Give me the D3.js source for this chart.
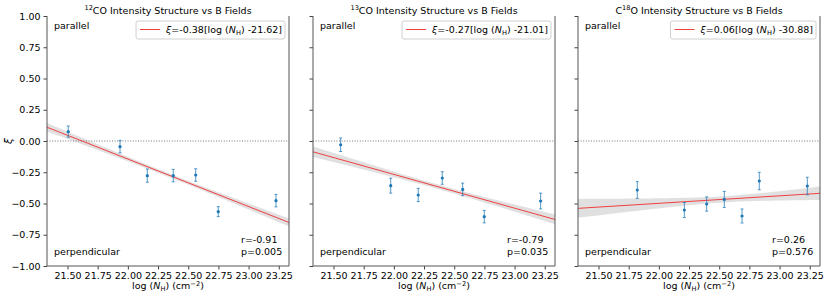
<!DOCTYPE html>
<html>
<head>
<meta charset="utf-8">
<script src="https://cdn.jsdelivr.net/npm/d3@7"></script>
<style>
  html, body { margin: 0; padding: 0; background: #fff; }
  svg text { font-family: "DejaVu Sans", sans-serif; }
</style>
</head>
<body>
<svg id="chart" width="830" height="293"></svg>
<script>
// ---------------- data ----------------
const titleSup   = ["12", "13", "18"];
const titlePre   = ["", "", "C"];
const titlePost  = ["CO Intensity Structure vs B Fields", "CO Intensity Structure vs B Fields", "O Intensity Structure vs B Fields"];

const xValues1 = [21.506, 21.935, 22.161, 22.376, 22.562, 22.749, 23.227];
const yValues1 = [0.075, -0.045, -0.277, -0.277, -0.272, -0.565, -0.477];
const yErr1    = [0.045, 0.050, 0.053, 0.050, 0.050, 0.040, 0.050];

const xValues2 = [21.559, 21.974, 22.202, 22.401, 22.570, 22.749, 23.216];
const yValues2 = [-0.030, -0.357, -0.432, -0.296, -0.387, -0.605, -0.480];
const yErr2    = [0.054, 0.060, 0.053, 0.050, 0.050, 0.050, 0.063];

const xValues3 = [21.821, 22.211, 22.396, 22.542, 22.689, 22.832, 23.230];
const yValues3 = [-0.392, -0.552, -0.504, -0.467, -0.600, -0.320, -0.360];
const yErr3    = [0.067, 0.060, 0.057, 0.064, 0.056, 0.070, 0.070];

const fitSlope = [-0.38, -0.27, 0.06];
const fitX0    = [21.62, 21.01, 30.31];
const ciScale  = [0.040, 0.048, 0.066];

const legendSlope     = ["-0.38", "-0.27", "0.06"];
const legendIntercept = ["-21.62", "-21.01", "-30.88"];
const rLabels = ["-0.91", "-0.79", "0.26"];
const pLabels = ["0.005", "0.035", "0.576"];

const xTicks = [21.50, 21.75, 22.00, 22.25, 22.50, 22.75, 23.00, 23.25];
const yTicks = [1.00, 0.75, 0.50, 0.25, 0.00, -0.25, -0.50, -0.75, -1.00];
const xDomain = [21.33, 23.335];
const yDomain = [-1, 1];

// ---------------- layout ----------------
const panelLeft = [47, 313, 578];
const panelW = 242;
const plotTop = 16, plotBottom = 266;
const FS = 9.5;
const blue = "#1f77b4";
const red = "#f04040";

const svg = d3.select("#chart");
const y = d3.scaleLinear().domain(yDomain).range([plotBottom, plotTop]);

const panels = [
  {x: xValues1, y: yValues1, e: yErr1},
  {x: xValues2, y: yValues2, e: yErr2},
  {x: xValues3, y: yValues3, e: yErr3}
];

panels.forEach((p, i) => {
  const L = panelLeft[i];
  const x = d3.scaleLinear().domain(xDomain).range([L, L + panelW]);
  const g = svg.append("g");

  // confidence band
  const n = p.x.length;
  const xm = d3.mean(p.x);
  const sxx = d3.sum(p.x, v => (v - xm) * (v - xm));
  const fit = v => fitSlope[i] * (v - fitX0[i]);
  const hw = v => ciScale[i] * Math.sqrt(1 / n + (v - xm) * (v - xm) / sxx);
  const xs = d3.range(0, 61).map(k => xDomain[0] + (xDomain[1] - xDomain[0]) * k / 60);
  g.append("path")
    .datum(xs)
    .attr("fill", "#000").attr("fill-opacity", 0.12)
    .attr("d", d3.area().x(v => x(v)).y0(v => y(fit(v) - hw(v))).y1(v => y(fit(v) + hw(v))));

  // zero dotted line
  g.append("line")
    .attr("x1", L).attr("x2", L + panelW)
    .attr("y1", y(0)).attr("y2", y(0))
    .attr("stroke", "#777").attr("stroke-width", 1)
    .attr("stroke-dasharray", "1,1.6");

  // regression line
  g.append("line")
    .attr("x1", x(xDomain[0])).attr("x2", x(xDomain[1]))
    .attr("y1", y(fit(xDomain[0]))).attr("y2", y(fit(xDomain[1])))
    .attr("stroke", red).attr("stroke-width", 1);

  // error bars
  const pts = p.x.map((v, k) => ({x: v, y: p.y[k], e: p.e[k]}));
  const eb = g.append("g").attr("stroke", blue).attr("stroke-opacity", 0.75).attr("stroke-width", 1);
  eb.selectAll("line.v").data(pts).join("line").attr("class", "v")
    .attr("x1", d => x(d.x)).attr("x2", d => x(d.x))
    .attr("y1", d => y(d.y - d.e)).attr("y2", d => y(d.y + d.e));
  eb.selectAll("line.t").data(pts).join("line").attr("class", "t")
    .attr("x1", d => x(d.x) - 1.5).attr("x2", d => x(d.x) + 1.5)
    .attr("y1", d => y(d.y + d.e)).attr("y2", d => y(d.y + d.e));
  eb.selectAll("line.b").data(pts).join("line").attr("class", "b")
    .attr("x1", d => x(d.x) - 1.5).attr("x2", d => x(d.x) + 1.5)
    .attr("y1", d => y(d.y - d.e)).attr("y2", d => y(d.y - d.e));
  g.append("g").selectAll("circle").data(pts).join("circle")
    .attr("cx", d => x(d.x)).attr("cy", d => y(d.y)).attr("r", 1.6)
    .attr("fill", blue);

  // axes
  const xa = g.append("g").attr("transform", `translate(0,${plotBottom})`)
    .call(d3.axisBottom(x).tickValues(xTicks).tickFormat(d3.format(".2f")).tickSize(3.5).tickPadding(2.5));
  xa.select(".domain").remove();
  xa.selectAll("text").attr("font-size", FS).attr("font-family", "DejaVu Sans").attr("fill", "#000");
  xa.selectAll("line").attr("stroke", "#444");

  const ya = g.append("g").attr("transform", `translate(${L},0)`)
    .call(d3.axisLeft(y).tickValues(yTicks).tickFormat(i === 0 ? d3.format(".2f") : () => "").tickSize(3.5).tickPadding(3));
  ya.select(".domain").remove();
  ya.selectAll("text").attr("font-size", FS).attr("font-family", "DejaVu Sans").attr("fill", "#000");
  ya.selectAll("line").attr("stroke", "#444");

  // spines (left, right, bottom)
  g.append("path").attr("d", `M${L},${plotTop}V${plotBottom}H${L + panelW}V${plotTop}`)
    .attr("stroke", "#555").attr("stroke-width", 1).attr("fill", "none");

  // title
  const t = g.append("text").attr("x", L + panelW / 2).attr("y", 13.5)
    .attr("text-anchor", "middle").attr("font-size", FS);
  if (titlePre[i]) t.append("tspan").text(titlePre[i]);
  t.append("tspan").text(titleSup[i]).attr("font-size", FS * 0.7).attr("dy", -3.5);
  t.append("tspan").text(titlePost[i]).attr("dy", 3.5);

  // x label
  const xl = g.append("text").attr("x", L + panelW / 2).attr("y", 289)
    .attr("text-anchor", "middle").attr("font-size", FS);
  xl.append("tspan").text("log (");
  xl.append("tspan").text("N").attr("font-style", "italic");
  xl.append("tspan").text("H").attr("font-size", FS * 0.7).attr("dy", 2);
  xl.append("tspan").text(") (cm").attr("dy", -2);
  xl.append("tspan").text("\u22122").attr("font-size", FS * 0.7).attr("dy", -3.5);
  xl.append("tspan").text(")").attr("dy", 3.5);

  // parallel / perpendicular
  g.append("text").attr("x", L + 7).attr("y", 29).attr("font-size", FS).text("parallel");
  g.append("text").attr("x", L + 7).attr("y", 254.5).attr("font-size", FS).text("perpendicular");
  g.append("text").attr("x", L + 194).attr("y", 242.5).attr("font-size", FS).text("r=" + rLabels[i]);
  g.append("text").attr("x", L + 194).attr("y", 254.5).attr("font-size", FS).text("p=" + pLabels[i]);

  // legend
  const lg = g.append("g");
  const lt = lg.append("text").attr("y", 33).attr("font-size", FS);
  lt.append("tspan").text("\u03BE").attr("font-style", "italic");
  lt.append("tspan").text("=" + legendSlope[i] + "[log (");
  lt.append("tspan").text("N").attr("font-style", "italic");
  lt.append("tspan").text("H").attr("font-size", FS * 0.7).attr("dy", 2);
  lt.append("tspan").text(") " + legendIntercept[i] + "]").attr("dy", -2);
  const tw = lt.node().getComputedTextLength();
  const boxR = L + panelW - 4;
  const boxL = boxR - (tw + 33);
  lt.attr("x", boxL + 30);
  lg.insert("rect", "text")
    .attr("x", boxL).attr("y", 21).attr("width", boxR - boxL).attr("height", 18)
    .attr("rx", 2).attr("fill", "#fff").attr("fill-opacity", 0.8)
    .attr("stroke", "#d0d0d0").attr("stroke-width", 1);
  lg.append("line").attr("x1", boxL + 4).attr("x2", boxL + 24).attr("y1", 29.5).attr("y2", 29.5)
    .attr("stroke", red).attr("stroke-width", 1);
});

// y label
svg.append("text").attr("transform", "translate(12,141) rotate(-90)")
  .attr("text-anchor", "middle").attr("font-size", FS + 1).attr("font-style", "italic").text("\u03BE");
</script>
</body>
</html>
